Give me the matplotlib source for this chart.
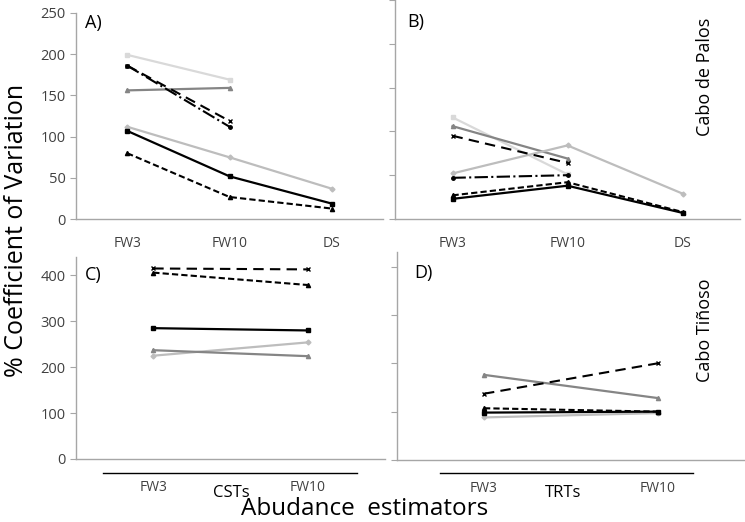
import matplotlib
matplotlib.use('Agg')
import matplotlib.pyplot as plt
from matplotlib.lines import Line2D

plt.rcParams['font.family'] = ['Open Sans', 'DejaVu Sans']

# categories
top_cats = ['FW3', 'FW10', 'DS']
bottom_cats = ['FW3', 'FW10']

# series values, None = missing
# panel A (Cabo de Palos)
a_s1 = [107, 52, 19]
a_s2 = [80, 27, 13]
a_s3 = [186, 119, None]
a_s4 = [186, 112, None]
a_s5 = [112, 75, 37]
a_s6 = [199, 169, None]
a_s7 = [156, 159, None]
# panel B (Cabo de Palos)
b_s1 = [23, 38, 7]
b_s2 = [27, 42, 8]
b_s3 = [95, 64, None]
b_s4 = [47, 50, None]
b_s5 = [52, 84, 29]
b_s6 = [116, 51, None]
b_s7 = [106, 69, None]
# panel C (Cabo Tiñoso, CSTs)
c_s1 = [285, 280]
c_s2 = [406, 379]
c_s3 = [415, 413]
c_s5 = [225, 254]
c_s7 = [237, 224]
# panel D (Cabo Tiñoso, TRTs)
d_s1 = [98, 100]
d_s2 = [107, 100]
d_s3 = [137, 200]
d_s5 = [88, 97]
d_s7 = [176, 128]

# series styles
STYLES = {
    's1': dict(color='black', ls='-', marker='s', lw=1.6, ms=3),
    's2': dict(color='black', ls=(0, (3, 1.5)), marker='^', lw=1.5, ms=3),
    's3': dict(color='black', ls=(0, (5, 3)), marker='x', lw=1.5, ms=3),
    's4': dict(color='black', ls='-.', marker='o', lw=1.5, ms=2.5),
    's5': dict(color='#bdbdbd', ls='-', marker='D', lw=1.6, ms=2.5),
    's6': dict(color='#d9d9d9', ls='-', marker='s', lw=1.6, ms=3),
    's7': dict(color='#858585', ls='-', marker='^', lw=1.6, ms=3),
}

AXIS_GREY = '#a6a6a6'
TEXT_GREY = '#404040'

W, H = 745, 522
fig = plt.figure(figsize=(W / 100, H / 100), dpi=100)


def box(left, right, top, bottom):
    # pixel box -> figure fraction
    return [left / W, 1 - bottom / H, (right - left) / W, (bottom - top) / H]


def style_axes(ax, yticks, show_labels):
    for s in ['top', 'right']:
        ax.spines[s].set_visible(False)
    for s in ['left', 'bottom']:
        ax.spines[s].set_color(AXIS_GREY)
        ax.spines[s].set_linewidth(1.0)
    ax.set_yticks(yticks)
    ax.tick_params(axis='y', length=4, color=AXIS_GREY, labelsize=10.5,
                   labelcolor=TEXT_GREY, labelleft=show_labels)
    ax.tick_params(axis='x', length=0, labelsize=10, labelcolor=TEXT_GREY, pad=12)


def draw(ax, series):
    for key, vals in series:
        xs = [i for i, v in enumerate(vals) if v is not None]
        ys = [v for v in vals if v is not None]
        st = STYLES[key]
        ax.plot(xs, ys, color=st['color'], linestyle=st['ls'], linewidth=st['lw'],
                marker=st['marker'], markersize=st['ms'], markeredgewidth=1.0,
                clip_on=False)


axA = fig.add_axes(box(76, 383, 12.7, 219.3))
axB = fig.add_axes(box(395, 740, 0, 219))
axC = fig.add_axes(box(76, 385, 257, 459))
axD = fig.add_axes(box(397, 745, 252, 460))

draw(axA, [('s6', a_s6), ('s7', a_s7), ('s5', a_s5), ('s3', a_s3), ('s4', a_s4),
           ('s2', a_s2), ('s1', a_s1)])
draw(axB, [('s6', b_s6), ('s7', b_s7), ('s5', b_s5), ('s3', b_s3), ('s4', b_s4),
           ('s2', b_s2), ('s1', b_s1)])
draw(axC, [('s5', c_s5), ('s7', c_s7), ('s1', c_s1), ('s2', c_s2), ('s3', c_s3)])
draw(axD, [('s5', d_s5), ('s7', d_s7), ('s1', d_s1), ('s2', d_s2), ('s3', d_s3)])

for ax, show in [(axA, True), (axB, False)]:
    ax.set_ylim(0, 250)
    ax.set_xlim(-0.5, 2.5)
    style_axes(ax, [0, 50, 100, 150, 200, 250], show)
    ax.set_xticks(range(3))
    ax.set_xticklabels(top_cats)

axC.set_ylim(0, 440)
axD.set_ylim(0, 430)
for ax, show in [(axC, True), (axD, False)]:
    ax.set_xlim(-0.5, 1.5)
    style_axes(ax, [0, 100, 200, 300, 400], show)
    ax.set_xticks(range(2))
    ax.set_xticklabels(bottom_cats)
    ax.tick_params(axis='x', pad=15)

# panel letters
axA.text(0.03, 0.95, 'A)', transform=axA.transAxes, fontsize=13, va='center')
axB.text(0.035, 0.9, 'B)', transform=axB.transAxes, fontsize=13, va='center')
axC.text(0.03, 0.91, 'C)', transform=axC.transAxes, fontsize=13, va='center')
axD.text(0.05, 0.9, 'D)', transform=axD.transAxes, fontsize=13, va='center')

# site labels
fig.text(705 / W, 1 - 77 / H, 'Cabo de Palos', rotation=90, fontsize=13,
         ha='center', va='center')
fig.text(705 / W, 1 - 330 / H, 'Cabo Tiñoso', rotation=90, fontsize=13,
         ha='center', va='center')

# bracket lines under the bottom panels
fig.add_artist(Line2D([103 / W, 357 / W], [1 - 473 / H] * 2, color='black', lw=1.0))
fig.add_artist(Line2D([440 / W, 693 / W], [1 - 473 / H] * 2, color='black', lw=1.0))
fig.text(231 / W, 1 - 493 / H, 'CSTs', fontsize=12, ha='center', va='center')
fig.text(563 / W, 1 - 493 / H, 'TRTs', fontsize=12, ha='center', va='center')

fig.text(365 / W, 1 - 509 / H, 'Abudance  estimators', fontsize=17.5,
         ha='center', va='center')
fig.text(17 / W, 1 - 230 / H, '% Coefficient of Variation', rotation=90,
         fontsize=18, ha='center', va='center')

fig.savefig('out.png', dpi=100)
